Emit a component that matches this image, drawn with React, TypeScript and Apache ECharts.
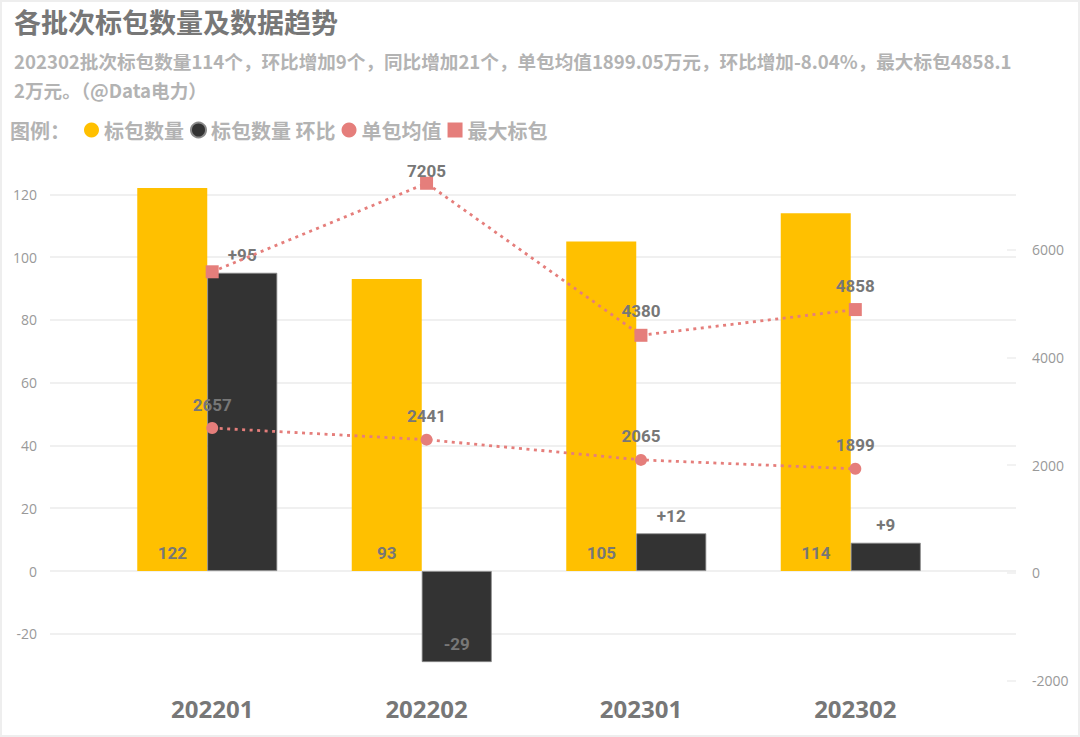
import { useEffect, useRef } from 'react';
import * as echarts from 'echarts';

// 批次
const batches = ['202201', '202202', '202301', '202302'];
// 标包数量 (个)
const packageCount = [122, 93, 105, 114];
// 标包数量 环比 (个)
const countChange = [95, -29, 12, 9];
// 单包均值 (万元)
const avgValue = [2657, 2441, 2065, 1899];
// 最大标包 (万元)
const maxValue = [5560, 7205, 4380, 4858];

// 左轴刻度
const leftMin = -20;
const leftMax = 120;
const leftStep = 20;
// 右轴刻度
const rightMin = -2000;
const rightMax = 6000;
const rightStep = 2000;

const titleText = '各批次标包数量及数据趋势';
const subText =
    '202302批次标包数量114个，环比增加9个，同比增加21个，单包均值1899.05万元，环比增加-8.04%，最大标包4858.1\n2万元。（@Data电力）';

const CJK = "'Noto Sans CJK SC', 'Open Sans', sans-serif";
const NUM = "Roboto, 'Noto Sans', sans-serif";

const YELLOW = '#FFC000';
const DARK = '#333333';
const SALMON = '#E57E7B';
const LABEL_GREY = '#777777';

export default function App() {
    const chartRef = useRef<HTMLDivElement>(null);

    useEffect(() => {
        if (!chartRef.current) return;
        const chart = echarts.init(chartRef.current, undefined, { renderer: 'svg' });

        const numLabel = {
            show: true,
            color: LABEL_GREY,
            fontWeight: 'bold' as const,
            fontSize: 17,
            fontFamily: NUM
        };

        const option: any = {
            animation: false,
            backgroundColor: '#ffffff',
            title: [
                {
                    text: titleText,
                    left: 9,
                    top: 3,
                    textStyle: { fontSize: 27, fontWeight: 'bold', color: '#777777', fontFamily: CJK }
                },
                {
                    text: subText,
                    left: 9,
                    top: 41,
                    textStyle: { fontSize: 18.6, fontWeight: 'bold', color: '#b3b3b3', fontFamily: CJK, lineHeight: 29 }
                }
            ],
            legend: {
                left: 79,
                top: 115,
                itemWidth: 15,
                itemHeight: 15,
                itemGap: 6,
                textStyle: { fontSize: 20, fontWeight: 'bold', color: '#b3b3b3', fontFamily: CJK },
                data: [
                    { name: '标包数量', icon: 'circle' },
                    { name: '标包数量 环比', icon: 'circle' },
                    { name: '单包均值', icon: 'circle' },
                    { name: '最大标包', icon: 'rect' }
                ]
            },
            graphic: [
                {
                    type: 'rect',
                    silent: true,
                    z: -1,
                    shape: { x: 1, y: 1, width: 1078, height: 735 },
                    style: { fill: 'none', stroke: '#eeeeee', lineWidth: 2 }
                },
                {
                    type: 'text',
                    x: 10,
                    y: 130,
                    style: {
                        text: '图例：',
                        fill: '#b3b3b3',
                        fontSize: 20,
                        fontWeight: 'bold',
                        fontFamily: CJK,
                        verticalAlign: 'middle'
                    }
                }
            ],
            // 0: 左轴网格, 1: 右轴, 2: 柱, 3: 折线
            grid: [
                { left: 50, right: 64, top: 194.3, bottom: 103.2 },
                { left: 50, right: 64, top: 249.7, bottom: 56.3 },
                { left: 100, right: 122, top: 131.5, bottom: 40.4 },
                { left: 105, right: 117.5, top: 131.5, bottom: 40.4 }
            ],
            xAxis: [
                { type: 'category', gridIndex: 0, data: batches, show: false },
                { type: 'category', gridIndex: 1, data: batches, show: false },
                { type: 'category', gridIndex: 2, data: batches, show: false },
                {
                    type: 'category',
                    gridIndex: 3,
                    data: batches,
                    axisLine: { show: false },
                    axisTick: { show: false },
                    axisLabel: {
                        margin: 0,
                        fontSize: 24,
                        fontWeight: 'bold',
                        color: LABEL_GREY,
                        fontFamily: "'Open Sans', sans-serif"
                    }
                }
            ],
            yAxis: [
                {
                    type: 'value',
                    gridIndex: 0,
                    min: leftMin,
                    max: leftMax,
                    interval: leftStep,
                    axisLine: { show: false },
                    axisTick: { show: false },
                    axisLabel: { margin: 13, fontSize: 14, color: '#999999', fontFamily: "'Open Sans', sans-serif" },
                    splitLine: { lineStyle: { color: '#ebebeb', width: 1.5 } }
                },
                {
                    type: 'value',
                    gridIndex: 1,
                    position: 'right',
                    min: rightMin,
                    max: rightMax,
                    interval: rightStep,
                    axisLine: { show: false },
                    axisTick: { show: true, inside: true, length: 9, lineStyle: { color: '#eeeeee', width: 1.5 } },
                    axisLabel: {
                        margin: 16,
                        fontSize: 14,
                        color: '#999999',
                        fontFamily: "'Open Sans', sans-serif",
                        formatter: (v: number) => String(v)
                    },
                    splitLine: { show: false }
                },
                {
                    type: 'value',
                    gridIndex: 2,
                    min: -40,
                    max: 140,
                    show: false,
                    splitLine: { show: false }
                },
                {
                    type: 'value',
                    gridIndex: 3,
                    min: -2333.33,
                    max: 8166.67,
                    show: false,
                    splitLine: { show: false }
                }
            ],
            series: [
                {
                    name: '标包数量',
                    type: 'bar',
                    xAxisIndex: 2,
                    yAxisIndex: 2,
                    barWidth: 70,
                    barGap: '0%',
                    itemStyle: { color: YELLOW },
                    label: { ...numLabel, position: 'insideBottom', distance: 10 },
                    data: packageCount
                },
                {
                    name: '标包数量 环比',
                    type: 'bar',
                    xAxisIndex: 2,
                    yAxisIndex: 2,
                    barWidth: 70,
                    barGap: '0%',
                    itemStyle: { color: DARK, borderColor: '#8a8a8a', borderWidth: 0.8 },
                    label: {
                        ...numLabel,
                        distance: 9,
                        formatter: (p: any) => (p.value > 0 ? '+' + p.value : String(p.value))
                    },
                    data: countChange.map(v => ({
                        value: v,
                        label: { position: v < 0 ? 'insideBottom' : 'top', distance: v < 0 ? 10 : 9 }
                    }))
                },
                {
                    name: '单包均值',
                    type: 'line',
                    xAxisIndex: 3,
                    yAxisIndex: 3,
                    symbol: 'circle',
                    symbolSize: 12,
                    itemStyle: { color: SALMON },
                    lineStyle: { color: SALMON, width: 2.8, type: [3, 4.5] },
                    label: { ...numLabel, position: 'top', distance: 9 },
                    z: 5,
                    data: avgValue
                },
                {
                    name: '最大标包',
                    type: 'line',
                    xAxisIndex: 3,
                    yAxisIndex: 3,
                    symbol: 'rect',
                    symbolSize: 13,
                    itemStyle: { color: SALMON },
                    lineStyle: { color: SALMON, width: 2.8, type: [3, 4.5] },
                    label: { ...numLabel, position: 'top', distance: 9 },
                    z: 5,
                    // 原图中第一个点没有标签，最高点的标签被压在图表顶边
                    data: maxValue.map((v, i) => {
                        if (i === 0) return { value: v, label: { show: false } };
                        if (v === Math.max(...maxValue)) return { value: v, label: { distance: -3 } };
                        return v;
                    })
                }
            ]
        };

        chart.setOption(option);

        const handleResize = () => chart.resize();
        window.addEventListener('resize', handleResize);

        return () => {
            window.removeEventListener('resize', handleResize);
            chart.dispose();
        };
    }, []);

    return (
        <div
            ref={chartRef}
            style={{ position: 'fixed', left: 0, top: 0, width: 1080, height: 737, background: '#fff' }}
        />
    );
}
